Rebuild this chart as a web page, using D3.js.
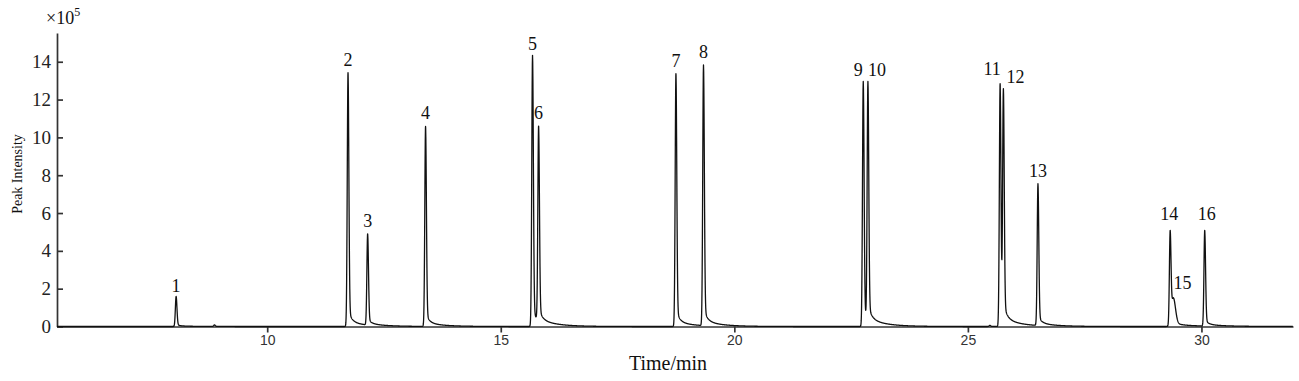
<!DOCTYPE html>
<html>
<head>
<meta charset="utf-8">
<script src="https://cdn.jsdelivr.net/npm/d3@7"></script>
<style>
    body { margin: 0; background: #fff; }
    .axis path, .axis line { stroke: #333; stroke-width: 1.7; }
    .ytick text { font-family: "Liberation Serif", "Times New Roman", serif; font-size: 19px; fill: #222; }
    .xtick text { font-family: "Liberation Sans", Arial, sans-serif; font-size: 14px; fill: #333; }
    .peak-label { font-family: "Liberation Serif", "Times New Roman", serif; font-size: 18px; fill: #111; }
    .title { font-family: "Liberation Serif", "Times New Roman", serif; fill: #111; }
</style>
</head>
<body>
<div id="chart"></div>
<script>
// peak table (time in min, intensity in 1e5)
var peakLabels = ["1", "2", "3", "4", "5", "6", "7", "8", "9", "10", "11", "12", "13", "14", "15", "16"];
var peakTimes = [8.05, 11.73, 12.15, 13.39, 15.68, 15.81, 18.75, 19.34, 22.76, 22.86, 25.69, 25.76, 26.50, 29.33, 29.40, 30.07];
var peakHeights = [1.59, 13.42, 4.90, 10.58, 14.34, 10.60, 13.37, 13.83, 12.96, 12.96, 12.84, 12.58, 7.55, 5.08, 1.52, 5.08];
var peakSpread = [1, 1, 1, 1, 1, 1, 1, 1, 1, 1, 1, 1, 1, 1, 2.5, 1];

// tiny unlabelled blips on the baseline
var minorTimes = [8.87, 25.47];
var minorHeights = [0.08, 0.06];

var xTicks = [10, 15, 20, 25, 30];
var yTicks = [0, 2, 4, 6, 8, 10, 12, 14];

var width = 1299, height = 381;
var svg = d3.select("#chart").append("svg")
    .attr("width", width)
    .attr("height", height);

var x = d3.scaleLinear().domain([5.5, 31.96]).range([57, 1293]);
var y = d3.scaleLinear().domain([0, 15.52]).range([326.5, 33]);

//Tailing peak profile, dt in minutes
function shape(dt, s) {
    if (dt < 0) {
        var sl = 0.016 * s;
        return Math.exp(-dt * dt / (2 * sl * sl));
    }
    var sr = 0.018 * s;
    return 0.93 * Math.exp(-dt * dt / (2 * sr * sr)) + 0.05 * Math.exp(-dt / (0.07 * s)) + 0.02 * Math.exp(-dt / (0.35 * s));
}

//Solve amplitudes so the summed trace reaches the read apex heights
var amps = peakHeights.slice();
for (var it = 0; it < 10; it++) {
    amps = peakHeights.map(function (h, i) {
        var other = 0;
        peakTimes.forEach(function (t, j) {
            if (j !== i) other += amps[j] * shape(peakTimes[i] - t, peakSpread[j]);
        });
        return Math.max(h - other, 0);
    });
}

function signal(t) {
    var v = 0;
    peakTimes.forEach(function (p, i) {
        v += amps[i] * shape(t - p, peakSpread[i]);
    });
    minorTimes.forEach(function (p, i) {
        v += minorHeights[i] * shape(t - p, 1);
    });
    return v;
}

//Sample grid, with the apex times added so the tips stay sharp
var times = d3.range(5.5, 31.96, 0.004).concat(peakTimes, minorTimes).sort(d3.ascending);
var trace = times.map(function (t) { return [t, signal(t)]; });

//Axes
var xAxis = d3.axisBottom(x)
    .tickValues(xTicks)
    .tickFormat(d3.format("d"))
    .tickSizeInner(6)
    .tickSizeOuter(0)
    .tickPadding(3);
svg.append("g")
    .attr("class", "axis xtick")
    .attr("transform", "translate(0," + y(0) + ")")
    .call(xAxis);

var yAxis = d3.axisLeft(y)
    .tickValues(yTicks)
    .tickFormat(d3.format("d"))
    .tickSizeInner(-6)
    .tickSizeOuter(0)
    .tickPadding(6);
svg.append("g")
    .attr("class", "axis ytick")
    .attr("transform", "translate(" + x.range()[0] + ",0)")
    .call(yAxis);

//Chromatogram trace
var line = d3.line()
    .x(function (d) { return x(d[0]); })
    .y(function (d) { return y(d[1]); });

svg.append("path")
    .datum(trace)
    .attr("fill", "none")
    .attr("stroke", "#111")
    .attr("stroke-width", 1.3)
    .attr("stroke-linejoin", "round")
    .attr("d", line);

//Peak numbers: default centred above the apex, a few nudged sideways
var labelNudge = {
    "9": [-5, 2], "10": [9, 2], "11": [-8, -2], "12": [12, 1],
    "14": [-1, -3], "15": [9, -2], "16": [2, -3], "5": [0, 2], "1": [0, 3]
};
svg.append("g").selectAll("text")
    .data(peakLabels)
    .enter().append("text")
    .attr("class", "peak-label")
    .attr("text-anchor", "middle")
    .attr("x", function (d, i) {
        var n = labelNudge[d] || [0, 0];
        return x(peakTimes[i]) + n[0];
    })
    .attr("y", function (d, i) {
        var n = labelNudge[d] || [0, 0];
        return y(signal(peakTimes[i])) - 7 + n[1];
    })
    .text(function (d) { return d; });

//Axis titles
svg.append("text")
    .attr("class", "title")
    .attr("x", 668)
    .attr("y", 370)
    .attr("text-anchor", "middle")
    .attr("font-size", 20)
    .text("Time/min");

svg.append("text")
    .attr("class", "title")
    .attr("transform", "translate(22,174) rotate(-90)")
    .attr("text-anchor", "middle")
    .attr("font-size", 14)
    .text("Peak Intensity");

var mult = svg.append("text")
    .attr("class", "title")
    .attr("x", 46)
    .attr("y", 24)
    .attr("font-size", 18);
mult.append("tspan").text("×10");
mult.append("tspan")
    .attr("font-size", 12)
    .attr("dy", -8)
    .text("5");
</script>
</body>
</html>
